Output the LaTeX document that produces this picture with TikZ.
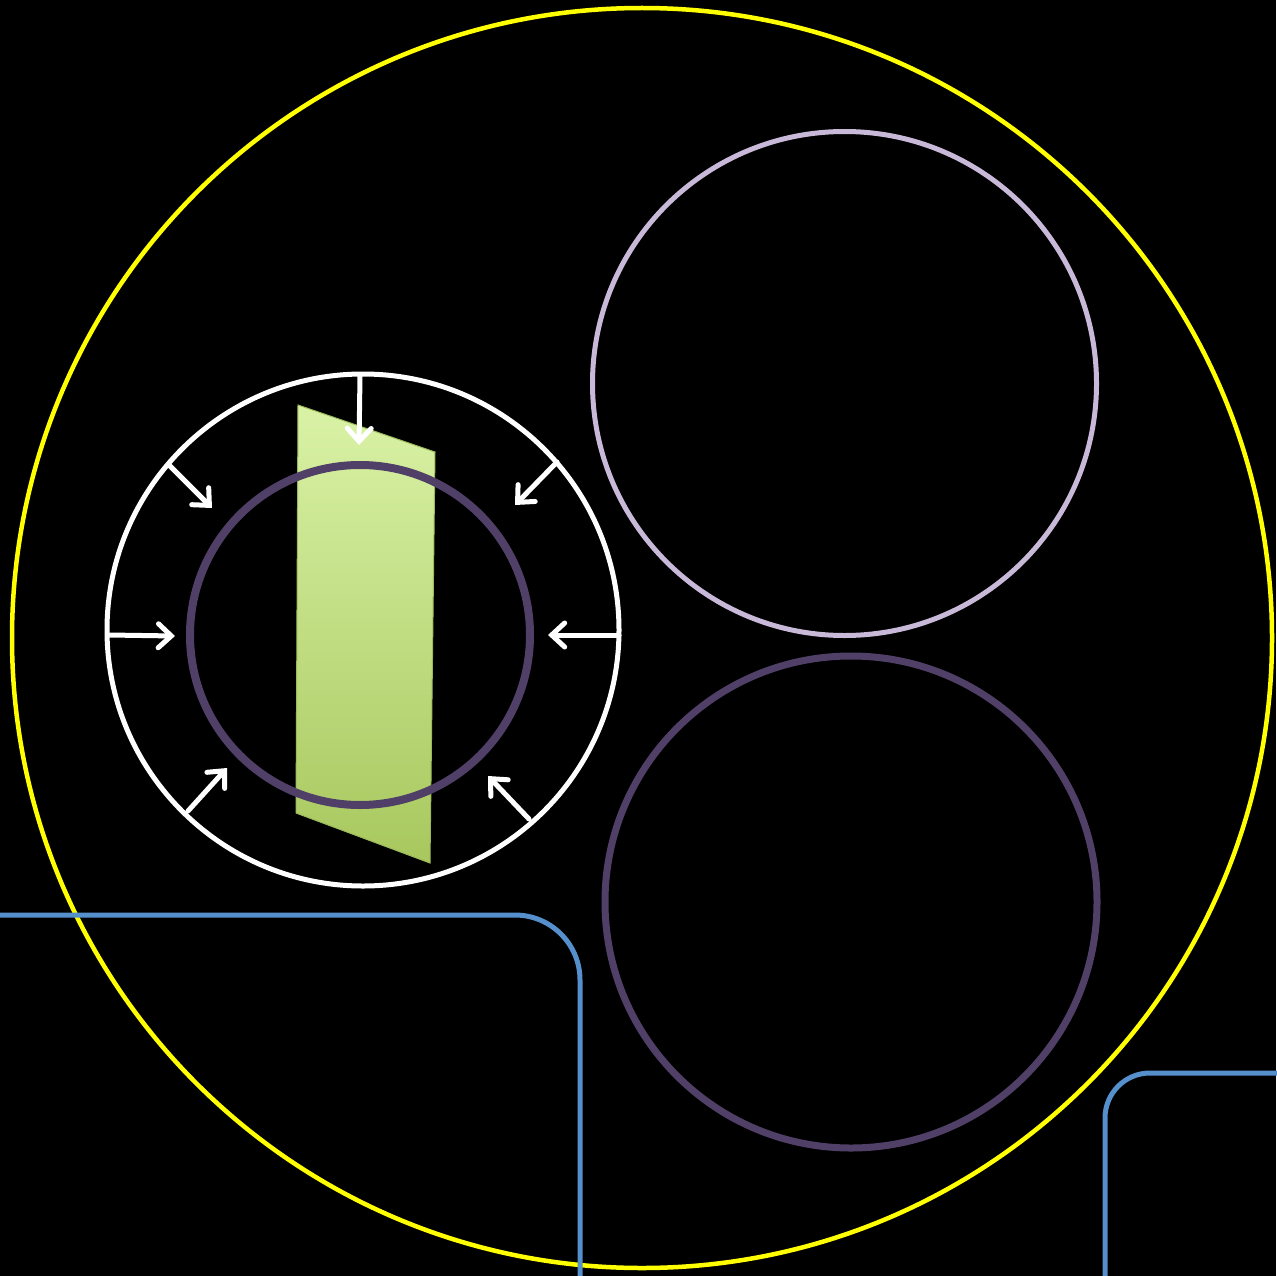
\documentclass[tikz,border=0pt]{standalone}
\usetikzlibrary{arrows.meta}
\definecolor{ylw}{HTML}{FFFF00}
\definecolor{lav}{HTML}{C8B9D9}
\definecolor{dpur}{HTML}{504068}
\definecolor{blu}{HTML}{5590CC}
\definecolor{gtop}{HTML}{D9F2A6}
\definecolor{gbot}{HTML}{A8C85E}
\definecolor{gedge}{HTML}{9DBA5A}
\tikzset{
  ring/.style={line width=#1},
  push/.style={draw=white,line width=5pt,line cap=round,
    -{Straight Barb[length=13pt,width=24pt,line cap=round]}},
  corner/.style={draw=blu,line width=5pt,rounded corners=#1},
}
\begin{document}
\begin{tikzpicture}[x=1pt,y=-1pt]
\fill[black] (0,0) rectangle (1276,1276);
\useasboundingbox (0,0) rectangle (1276,1276);
% big yellow circle
\draw[ylw,ring=4.5pt] (642,638) circle[radius=630];
% top right lavender circle
\draw[lav,ring=5pt] (844.5,383.5) circle[radius=252];
% bottom right dark purple circle
\draw[dpur,ring=7pt] (851,902) circle[radius=246];
% green trapezoid
\shade[top color=gtop,bottom color=gbot,draw=gedge,line width=1pt]
  (298,405) -- (435,452) -- (430,863) -- (296,813) -- cycle;
% white circle
\draw[white,ring=5pt] (363,630) circle[radius=256];
% inner purple circle
\draw[dpur,ring=8pt] (360,635) circle[radius=170];
% arrows
\coordinate (t0) at (360,376); \coordinate (t1) at (359,445);
\coordinate (ul0) at (169,465); \coordinate (ul1) at (212,508);
\coordinate (l0) at (109,635); \coordinate (l1) at (175,636);
\coordinate (ll0) at (188,811); \coordinate (ll1) at (227,768);
\coordinate (lr0) at (529,819); \coordinate (lr1) at (488,776);
\coordinate (r0) at (619,635); \coordinate (r1) at (548,635);
\coordinate (ur0) at (557,462); \coordinate (ur1) at (515,505);
\foreach \a in {t,ul,l,ll,lr,r,ur}{\draw[push] (\a0) -- (\a1);}
% blue corners
\draw[corner=65pt] (-5,915) -- (580,915) -- (580,1285);
\draw[corner=45pt] (1285,1073) -- (1105,1073) -- (1105,1285);
\end{tikzpicture}
\end{document}
